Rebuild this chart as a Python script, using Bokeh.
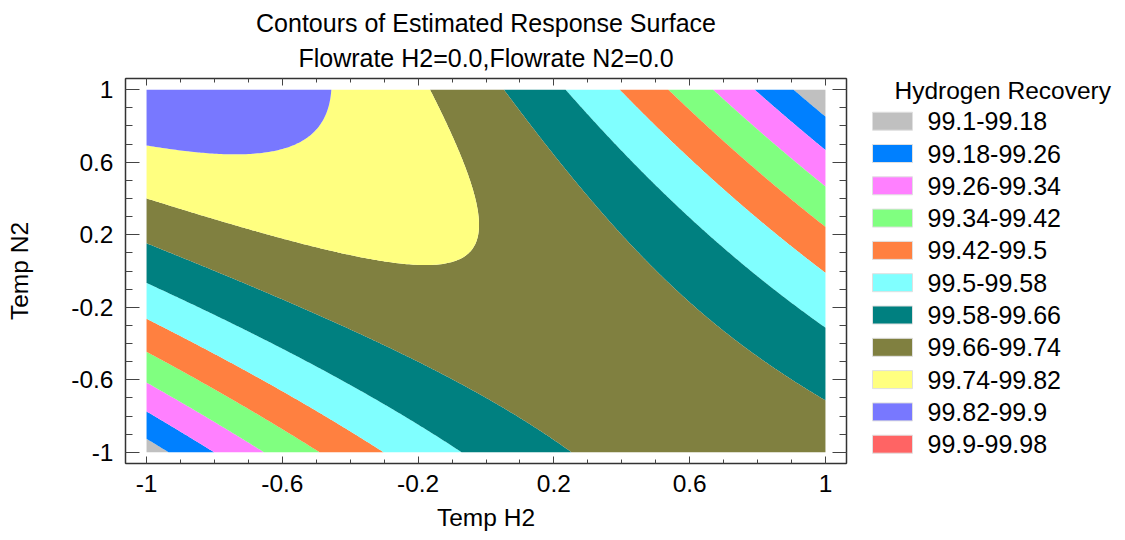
import numpy as np
from bokeh.plotting import figure
from bokeh.models import Range1d, LinearAxis, FixedTicker, Title
from bokeh.layouts import row
from bokeh.embed import file_html
from bokeh.resources import INLINE
from bokeh.core.properties import value

# ---- data ----
# fitted quadratic response surface in coded units: Temp H2 (x), Temp N2 (y)
coef_terms = ["const", "TempH2", "TempN2", "TempH2^2", "TempN2^2", "TempH2*TempN2"]
coef_values = [99.733, -0.054, 0.040, -0.182, -0.092, -0.334]

levels = [99.1, 99.18, 99.26, 99.34, 99.42, 99.5, 99.58, 99.66, 99.74, 99.82, 99.9, 99.98]
level_labels = ["99.1-99.18", "99.18-99.26", "99.26-99.34", "99.34-99.42", "99.42-99.5",
                "99.5-99.58", "99.58-99.66", "99.66-99.74", "99.74-99.82", "99.82-99.9",
                "99.9-99.98"]
level_colors = ["#C0C0C0", "#0080FF", "#FF80FF", "#80FF80", "#FF8040", "#80FFFF",
                "#008080", "#808040", "#FFFF80", "#7878FF", "#FF6464"]
tick_values = [-1, -0.6, -0.2, 0.2, 0.6, 1]
tick_labels = ["-1", "-0.6", "-0.2", "0.2", "0.6", "1"]
minor_tick_values = [-1, -0.9, -0.8, -0.7, -0.6, -0.5, -0.4, -0.3, -0.2, -0.1, 0,
                     0.1, 0.2, 0.3, 0.4, 0.5, 0.6, 0.7, 0.8, 0.9, 1]

title_line1 = "Contours of Estimated Response Surface"
title_line2 = "Flowrate H2=0.0,Flowrate N2=0.0"
x_label = "Temp H2"
y_label = "Temp N2"
legend_title = "Hydrogen Recovery"

FONT = "Liberation Sans"
FS_AX = "24.5px"
FS_TXT = "25px"

# ---- layout constants (pixels) ----
H = 538
FW, FH = 721, 385                          # frame size
BL, BR, BT = 125, 12, 78                   # borders of the main plot
BB = H - BT - FH
W = BL + FW + BR
LW = 256                                   # legend panel width
ORG = 1                                    # where the page content starts

# ---- surface ----
xs = np.linspace(-1, 1, 301)
ys = np.linspace(-1, 1, 301)
X, Y = np.meshgrid(xs, ys)
b0, b1, b2, b11, b22, b12 = coef_values
Z = b0 + b1 * X + b2 * Y + b11 * X ** 2 + b22 * Y ** 2 + b12 * X * Y

p = figure(width=W, height=H, x_range=Range1d(-1.062, 1.062), y_range=Range1d(-1.062, 1.062),
           output_backend="svg", toolbar_location=None,
           min_border_left=BL, min_border_right=BR, min_border_top=BT, min_border_bottom=BB,
           x_axis_label=x_label, y_axis_label=y_label)
p.grid.visible = False
p.outline_line_color = "#333333"
p.background_fill_color = "white"
p.border_fill_color = "white"

p.contour(xs, ys, Z, levels=levels, fill_color=level_colors)

ticker = FixedTicker(ticks=tick_values, minor_ticks=minor_tick_values)
overrides = {v: s for v, s in zip(tick_values, tick_labels)}

p.add_layout(LinearAxis(), "right")
p.add_layout(LinearAxis(), "above")

for ax in p.axis:
    ax.ticker = ticker
    ax.major_label_overrides = overrides
    ax.axis_line_color = "#333333"
    ax.axis_line_width = 1.5
    ax.major_tick_line_color = "#444444"
    ax.minor_tick_line_color = "#444444"
    ax.major_tick_out = 0
    ax.minor_tick_out = 0
    ax.major_label_text_font = FONT
    ax.major_label_text_font_size = FS_AX
    ax.major_label_text_color = "black"
    ax.axis_label_text_font = FONT
    ax.axis_label_text_font_size = FS_AX
    ax.axis_label_text_font_style = "normal"
    ax.axis_label_text_color = "black"

for ax in p.yaxis:
    ax.major_tick_in = 14
    ax.minor_tick_in = 7
for ax in p.xaxis:
    ax.major_tick_in = 7
    ax.minor_tick_in = 4

p.below[0].major_label_standoff = 11
p.below[0].axis_label_standoff = 9
p.left[0].major_label_standoff = 12
p.left[0].axis_label_standoff = 35

for ax in (p.right[0], p.above[0]):
    ax.major_label_text_font_size = "0px"
    ax.major_label_text_color = None
    ax.major_label_standoff = 0
p.above[0].major_label_standoff = 8

p.add_layout(Title(text=title_line2, align="center", vertical_align="top", text_font=FONT,
                   text_font_size=FS_TXT, text_font_style="normal", text_color="black",
                   standoff=10), "above")
p.add_layout(Title(text=title_line1, align="center", vertical_align="top", text_font=FONT,
                   text_font_size=FS_TXT, text_font_style="normal", text_color="black",
                   standoff=0), "above")

# ---- legend panel (coordinates are page pixels, y downward) ----
x0 = ORG + W
top_px = ORG + BT
bot_px = ORG + BT + FH
q = figure(width=LW, height=H, x_range=Range1d(x0, x0 + LW), y_range=Range1d(bot_px, top_px),
           output_backend="svg", toolbar_location=None,
           x_axis_location=None, y_axis_location=None,
           min_border_left=0, min_border_right=0, min_border_top=BT, min_border_bottom=BB)
q.grid.visible = False
q.outline_line_color = None
q.border_fill_color = "white"
q.background_fill_color = "white"

idx = np.arange(len(level_labels))
row_y = 121.7 + 32.3 * idx
q.rect(x=893, y=row_y, width=40, height=18, fill_color=level_colors,
       line_color="#E0E0E0", line_width=1)
q.text(x=928, y=row_y, text=level_labels, text_font=value(FONT), text_font_size=FS_TXT,
       text_baseline="middle", text_align="left", text_color="black")
q.text(x=[895], y=[90.5], text=[legend_title], text_font=value(FONT), text_font_size="24.5px",
       text_baseline="middle", text_align="left", text_color="black")

layout = row(p, q)
open("out.html", "w").write(file_html(layout, INLINE))
